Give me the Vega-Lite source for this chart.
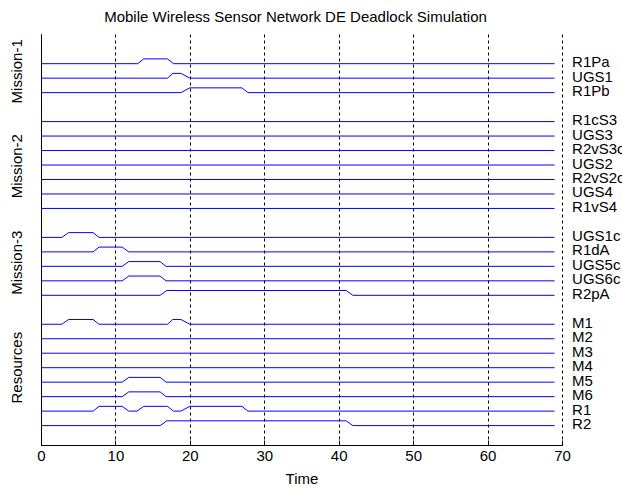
{
  "$schema": "https://vega.github.io/schema/vega-lite/v6.json",
  "autosize": "none",
  "width": 521,
  "height": 411,
  "padding": {"left": 41, "top": 34, "right": 60, "bottom": 44},
  "background": "white",
  "title": {"text": "Mobile Wireless Sensor Network DE Deadlock Simulation", "font": "Liberation Sans", "fontSize": 15, "fontWeight": "normal", "color": "black", "baseline": "alphabetic", "offset": 13, "dx": -6, "dy": 16},
  "config": {"view": {"stroke": null}, "font": "Liberation Sans"},
  "datasets": {
    "signals": [
      {"signal": "R1Pa", "t": 0, "y": 26}, {"signal": "R1Pa", "t": 13, "y": 26}, {"signal": "R1Pa", "t": 13.8, "y": 26.33}, {"signal": "R1Pa", "t": 17, "y": 26.33}, {"signal": "R1Pa", "t": 17.8, "y": 26}, {"signal": "R1Pa", "t": 69, "y": 26},
      {"signal": "UGS1", "t": 0, "y": 25}, {"signal": "UGS1", "t": 17, "y": 25}, {"signal": "UGS1", "t": 17.7, "y": 25.33}, {"signal": "UGS1", "t": 18.8, "y": 25.33}, {"signal": "UGS1", "t": 20, "y": 25}, {"signal": "UGS1", "t": 69, "y": 25},
      {"signal": "R1Pb", "t": 0, "y": 24}, {"signal": "R1Pb", "t": 18.8, "y": 24}, {"signal": "R1Pb", "t": 20, "y": 24.33}, {"signal": "R1Pb", "t": 27, "y": 24.33}, {"signal": "R1Pb", "t": 27.8, "y": 24}, {"signal": "R1Pb", "t": 69, "y": 24},
      {"signal": "R1cS3", "t": 0, "y": 22}, {"signal": "R1cS3", "t": 69, "y": 22},
      {"signal": "UGS3", "t": 0, "y": 21}, {"signal": "UGS3", "t": 69, "y": 21},
      {"signal": "R2vS3c", "t": 0, "y": 20}, {"signal": "R2vS3c", "t": 69, "y": 20},
      {"signal": "UGS2", "t": 0, "y": 19}, {"signal": "UGS2", "t": 69, "y": 19},
      {"signal": "R2vS2c", "t": 0, "y": 18}, {"signal": "R2vS2c", "t": 69, "y": 18},
      {"signal": "UGS4", "t": 0, "y": 17}, {"signal": "UGS4", "t": 69, "y": 17},
      {"signal": "R1vS4", "t": 0, "y": 16}, {"signal": "R1vS4", "t": 69, "y": 16},
      {"signal": "UGS1c", "t": 0, "y": 14}, {"signal": "UGS1c", "t": 2.8, "y": 14}, {"signal": "UGS1c", "t": 3.7, "y": 14.33}, {"signal": "UGS1c", "t": 7, "y": 14.33}, {"signal": "UGS1c", "t": 7.8, "y": 14}, {"signal": "UGS1c", "t": 69, "y": 14},
      {"signal": "R1dA", "t": 0, "y": 13}, {"signal": "R1dA", "t": 7, "y": 13}, {"signal": "R1dA", "t": 7.8, "y": 13.33}, {"signal": "R1dA", "t": 10.9, "y": 13.33}, {"signal": "R1dA", "t": 11.8, "y": 13}, {"signal": "R1dA", "t": 69, "y": 13},
      {"signal": "UGS5c", "t": 0, "y": 12}, {"signal": "UGS5c", "t": 10.9, "y": 12}, {"signal": "UGS5c", "t": 11.8, "y": 12.33}, {"signal": "UGS5c", "t": 16, "y": 12.33}, {"signal": "UGS5c", "t": 16.8, "y": 12}, {"signal": "UGS5c", "t": 69, "y": 12},
      {"signal": "UGS6c", "t": 0, "y": 11}, {"signal": "UGS6c", "t": 10.9, "y": 11}, {"signal": "UGS6c", "t": 11.8, "y": 11.33}, {"signal": "UGS6c", "t": 16, "y": 11.33}, {"signal": "UGS6c", "t": 16.8, "y": 11}, {"signal": "UGS6c", "t": 69, "y": 11},
      {"signal": "R2pA", "t": 0, "y": 10}, {"signal": "R2pA", "t": 16, "y": 10}, {"signal": "R2pA", "t": 16.9, "y": 10.33}, {"signal": "R2pA", "t": 41, "y": 10.33}, {"signal": "R2pA", "t": 41.9, "y": 10}, {"signal": "R2pA", "t": 69, "y": 10},
      {"signal": "M1", "t": 0, "y": 8}, {"signal": "M1", "t": 2.8, "y": 8}, {"signal": "M1", "t": 3.7, "y": 8.33}, {"signal": "M1", "t": 7, "y": 8.33}, {"signal": "M1", "t": 7.8, "y": 8}, {"signal": "M1", "t": 17, "y": 8}, {"signal": "M1", "t": 17.7, "y": 8.33}, {"signal": "M1", "t": 18.8, "y": 8.33}, {"signal": "M1", "t": 20, "y": 8}, {"signal": "M1", "t": 69, "y": 8},
      {"signal": "M2", "t": 0, "y": 7}, {"signal": "M2", "t": 69, "y": 7},
      {"signal": "M3", "t": 0, "y": 6}, {"signal": "M3", "t": 69, "y": 6},
      {"signal": "M4", "t": 0, "y": 5}, {"signal": "M4", "t": 69, "y": 5},
      {"signal": "M5", "t": 0, "y": 4}, {"signal": "M5", "t": 10.9, "y": 4}, {"signal": "M5", "t": 11.8, "y": 4.33}, {"signal": "M5", "t": 16, "y": 4.33}, {"signal": "M5", "t": 16.8, "y": 4}, {"signal": "M5", "t": 69, "y": 4},
      {"signal": "M6", "t": 0, "y": 3}, {"signal": "M6", "t": 10.9, "y": 3}, {"signal": "M6", "t": 11.8, "y": 3.33}, {"signal": "M6", "t": 16, "y": 3.33}, {"signal": "M6", "t": 16.8, "y": 3}, {"signal": "M6", "t": 69, "y": 3},
      {"signal": "R1", "t": 0, "y": 2}, {"signal": "R1", "t": 7, "y": 2}, {"signal": "R1", "t": 7.8, "y": 2.33}, {"signal": "R1", "t": 10.9, "y": 2.33}, {"signal": "R1", "t": 11.8, "y": 2}, {"signal": "R1", "t": 12.9, "y": 2}, {"signal": "R1", "t": 13.8, "y": 2.33}, {"signal": "R1", "t": 17, "y": 2.33}, {"signal": "R1", "t": 17.8, "y": 2}, {"signal": "R1", "t": 18.8, "y": 2}, {"signal": "R1", "t": 20, "y": 2.33}, {"signal": "R1", "t": 27, "y": 2.33}, {"signal": "R1", "t": 27.8, "y": 2}, {"signal": "R1", "t": 69, "y": 2},
      {"signal": "R2", "t": 0, "y": 1}, {"signal": "R2", "t": 16, "y": 1}, {"signal": "R2", "t": 16.9, "y": 1.33}, {"signal": "R2", "t": 41, "y": 1.33}, {"signal": "R2", "t": 41.9, "y": 1}, {"signal": "R2", "t": 69, "y": 1}
    ],
    "groups": [
      {"group": "Mission-1", "y": 25.47},
      {"group": "Mission-2", "y": 18.92},
      {"group": "Mission-3", "y": 12.25},
      {"group": "Resources", "y": 5.0}
    ]
  },
  "layer": [
    {
      "data": {"name": "signals"},
      "mark": {"type": "line", "color": "#0000ff", "strokeWidth": 1},
      "encoding": {
        "x": {"field": "t", "type": "quantitative", "scale": {"domain": [0, 70], "nice": false, "zero": false},
          "axis": {"values": [0, 10, 20, 30, 40, 50, 60, 70], "grid": true, "gridColor": "black", "gridDash": [3, 3], "gridOpacity": 1, "gridWidth": 1,
            "domainColor": "black", "tickColor": "black", "tickSize": -5, "labelFont": "Liberation Sans", "labelFontSize": 15, "labelColor": "black", "labelPadding": 8,
            "labelFlush": false, "labelOverlap": false, "title": "Time", "titleFont": "Liberation Sans", "titleFontSize": 15, "titleFontWeight": "normal", "titleColor": "black", "titlePadding": 8}},
        "y": {"field": "y", "type": "quantitative", "scale": {"domain": [-0.34, 28.05], "nice": false, "zero": false},
          "axis": {"domain": true, "domainColor": "black", "ticks": false, "labels": false, "grid": false, "title": null}},
        "detail": {"field": "signal"}
      }
    },
    {
      "data": {"name": "signals"},
      "transform": [{"filter": "datum.t == 69"}],
      "mark": {"type": "text", "align": "left", "baseline": "middle", "dx": 17.5, "dy": -1.5, "fontSize": 15, "font": "Liberation Sans", "color": "black"},
      "encoding": {
        "x": {"field": "t", "type": "quantitative"},
        "y": {"field": "y", "type": "quantitative"},
        "text": {"field": "signal"}
      }
    },
    {
      "data": {"name": "groups"},
      "mark": {"type": "text", "angle": 270, "align": "center", "baseline": "middle", "fontSize": 15, "font": "Liberation Sans", "color": "black"},
      "encoding": {
        "x": {"datum": -3.2, "type": "quantitative"},
        "y": {"field": "y", "type": "quantitative"},
        "text": {"field": "group"}
      }
    }
  ]
}
